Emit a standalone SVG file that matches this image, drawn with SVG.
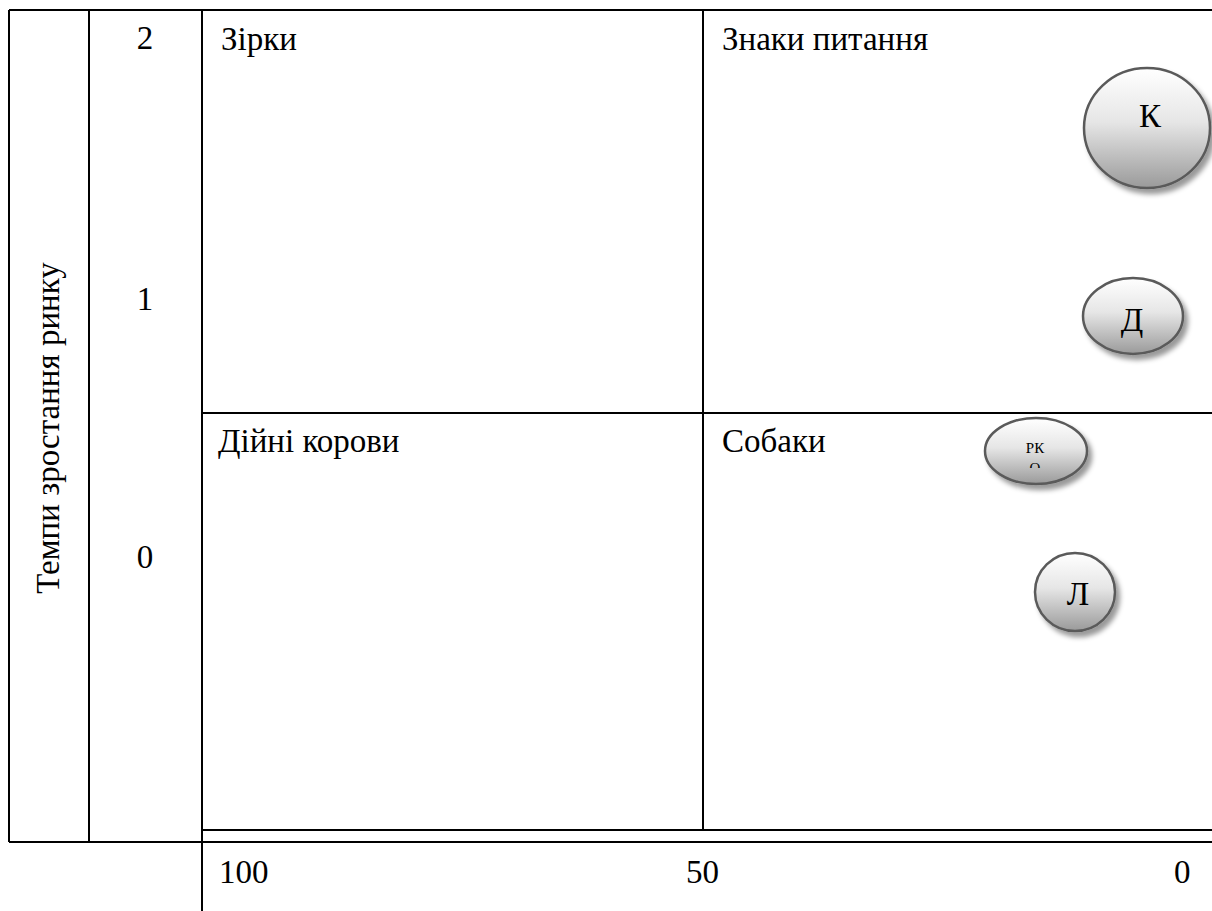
<svg xmlns="http://www.w3.org/2000/svg" width="1212" height="911" viewBox="0 0 1212 911">
<defs>
<style>
.ln{stroke:#000;stroke-width:2;fill:none}
.t{font-family:"Liberation Serif","Times New Roman",serif;font-size:33px;fill:#000}
.c{fill:url(#g);stroke:#5a5a5a;stroke-width:2.5;filter:url(#sh)}
.ct{font-family:"Liberation Serif","Times New Roman",serif;font-size:33px;fill:#000;text-anchor:middle}
</style>
<linearGradient id="g" x1="0" y1="0" x2="0" y2="1">
<stop offset="0" stop-color="#ffffff"/>
<stop offset="0.45" stop-color="#e6e6e6"/>
<stop offset="1" stop-color="#9a9a9a"/>
</linearGradient>
<filter id="sh" x="-20%" y="-20%" width="150%" height="150%">
<feDropShadow dx="4" dy="5" stdDeviation="2.5" flood-color="#000" flood-opacity="0.4"/>
</filter>
<clipPath id="rkclip"><rect x="995" y="430" width="80" height="38"/></clipPath>
</defs>
<rect width="1212" height="911" fill="#fff"/>
<g id="grid">
<line class="ln" x1="9" y1="10" x2="1212" y2="10"/>
<line class="ln" x1="9" y1="10" x2="9" y2="842"/>
<line class="ln" x1="89" y1="10" x2="89" y2="842"/>
<line class="ln" x1="202" y1="10" x2="202" y2="911"/>
<line class="ln" x1="703" y1="10" x2="703" y2="830"/>
<line class="ln" x1="202" y1="413" x2="1212" y2="413"/>
<line class="ln" x1="202" y1="830" x2="1212" y2="830"/>
<line class="ln" x1="9" y1="842" x2="1212" y2="842"/>
</g>
<g id="axis-y">
<text class="t" transform="translate(59,428) rotate(-90)" text-anchor="middle">Темпи зростання ринку</text>
<text class="t" x="145" y="49" text-anchor="middle">2</text>
<text class="t" x="145" y="310" text-anchor="middle">1</text>
<text class="t" x="145" y="568" text-anchor="middle">0</text>
</g>
<g id="axis-x">
<text class="t" x="219" y="883">100</text>
<text class="t" x="686" y="883">50</text>
<text class="t" x="1174" y="883">0</text>
</g>
<g id="q-stars"><text class="t" x="221" y="50">Зірки</text></g>
<g id="q-question"><text class="t" x="722" y="50">Знаки питання</text></g>
<g id="q-cows"><text class="t" x="218" y="452">Дійні корови</text></g>
<g id="q-dogs"><text class="t" x="722" y="452">Собаки</text></g>
<g id="node-k"><ellipse class="c" cx="1147" cy="128" rx="63" ry="60"/><text class="ct" x="1150" y="127">К</text></g>
<g id="node-d"><ellipse class="c" cx="1133" cy="316" rx="50" ry="38"/><text class="ct" x="1132" y="331">Д</text></g>
<g id="node-rk"><ellipse class="c" cx="1036" cy="451" rx="51" ry="33"/>
<g clip-path="url(#rkclip)"><text class="ct" x="1035" y="453" style="font-size:15px">РК</text><text class="ct" x="1035" y="473" style="font-size:15px">О</text></g></g>
<g id="node-l"><ellipse class="c" cx="1075" cy="592" rx="40" ry="39"/><text class="ct" x="1078" y="605">Л</text></g>
</svg>
